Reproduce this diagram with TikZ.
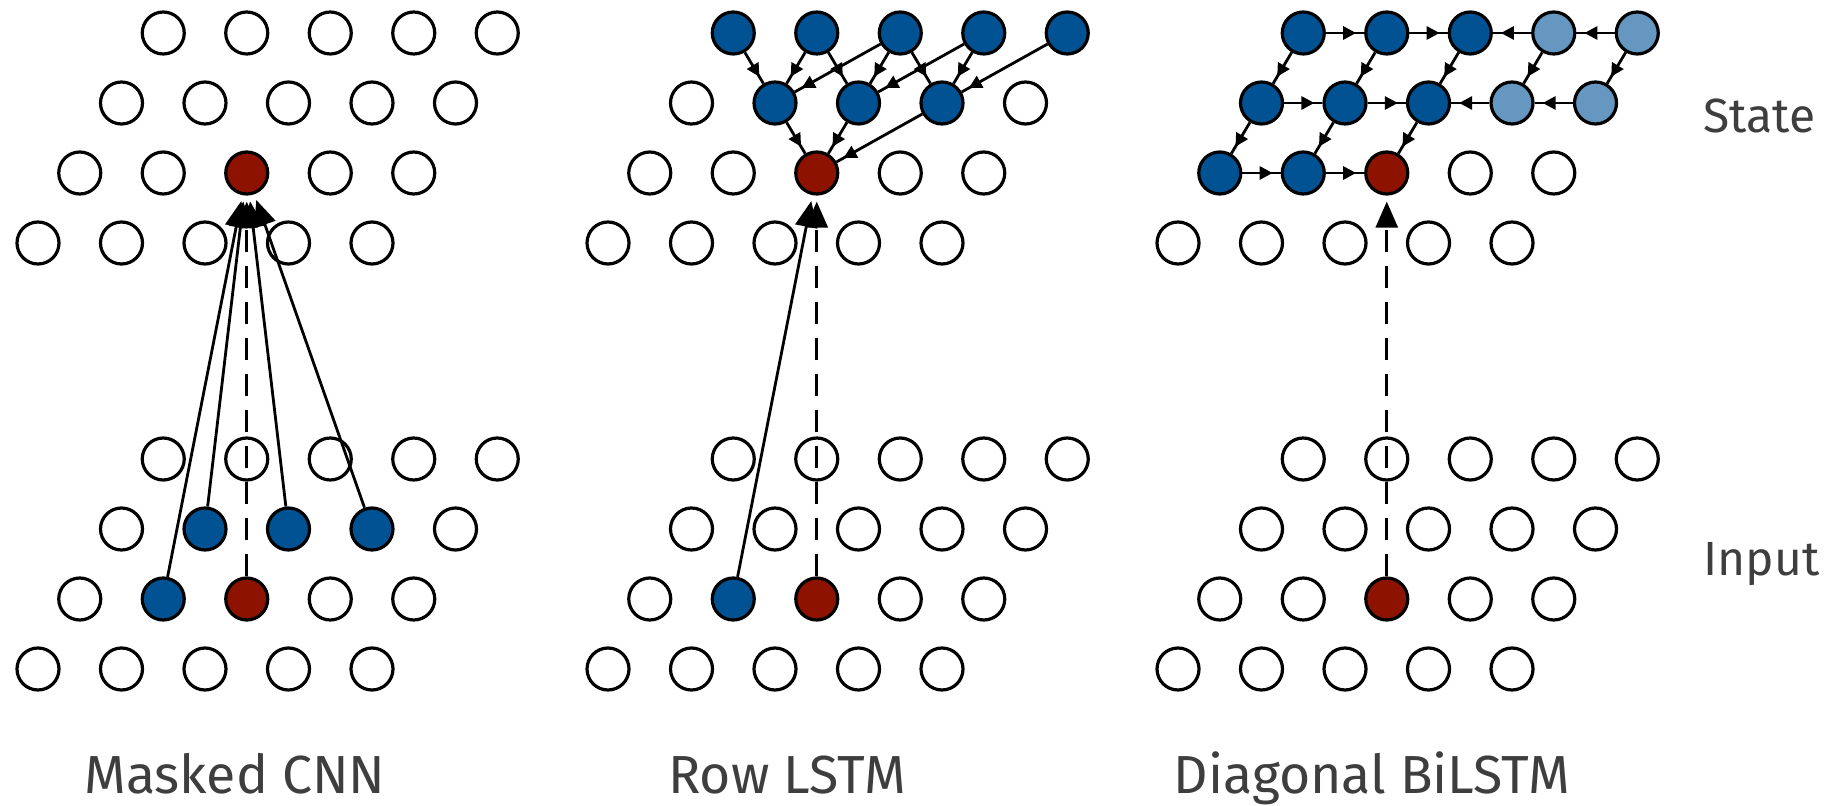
\documentclass[tikz,border=0pt]{standalone}
\usepackage{fontspec}
\setmainfont{Fira Sans}
\usetikzlibrary{arrows.meta,decorations.markings}
\definecolor{cblue}{RGB}{0,82,147}
\definecolor{clight}{RGB}{101,151,192}
\definecolor{cred}{RGB}{142,18,0}
\definecolor{ctext}{RGB}{62,62,62}
\tikzset{
  cell/.style={circle, draw=black, line width=1.6pt, fill=white, minimum size=21pt, inner sep=0pt},
  bluecell/.style={fill=cblue},
  lightcell/.style={fill=clight},
  redcell/.style={fill=cred},
  conn/.style={line width=1.4pt, draw=black},
  bigarrow/.style={conn, -{Triangle[length=13pt,width=11pt]}, shorten >=3pt},
  dashline/.style={dash pattern=on 11pt off 7pt},
  midarrow/.style={conn, postaction={decorate}, decoration={markings, mark=at position -4pt with {\arrow{Triangle[length=6.5pt,width=6.5pt]}}}},
  lbl/.style={text=ctext, font=\fontsize{26.8pt}{30pt}\selectfont, inner sep=0pt, anchor=base},
  side/.style={text=ctext, font=\fontsize{24pt}{28pt}\selectfont, inner sep=0pt, anchor=base west},
  % panel 1
  sty-1-s-2-1/.style={redcell},
  sty-1-n-2-1/.style={redcell},
  sty-1-n-1-1/.style={bluecell}, sty-1-n-1-2/.style={bluecell},
  sty-1-n-2-2/.style={bluecell}, sty-1-n-3-2/.style={bluecell},
  % panel 2
  sty-2-s-2-1/.style={redcell},
  sty-2-s-0-3/.style={bluecell}, sty-2-s-1-3/.style={bluecell}, sty-2-s-2-3/.style={bluecell},
  sty-2-s-3-3/.style={bluecell}, sty-2-s-4-3/.style={bluecell},
  sty-2-s-1-2/.style={bluecell}, sty-2-s-2-2/.style={bluecell}, sty-2-s-3-2/.style={bluecell},
  sty-2-n-1-1/.style={bluecell}, sty-2-n-2-1/.style={redcell},
  % panel 3
  sty-3-s-0-3/.style={bluecell}, sty-3-s-1-3/.style={bluecell}, sty-3-s-2-3/.style={bluecell},
  sty-3-s-3-3/.style={lightcell}, sty-3-s-4-3/.style={lightcell},
  sty-3-s-0-2/.style={bluecell}, sty-3-s-1-2/.style={bluecell}, sty-3-s-2-2/.style={bluecell},
  sty-3-s-3-2/.style={lightcell}, sty-3-s-4-2/.style={lightcell},
  sty-3-s-0-1/.style={bluecell}, sty-3-s-1-1/.style={bluecell}, sty-3-s-2-1/.style={redcell},
  sty-3-n-2-1/.style={redcell},
}
\begin{document}
\begin{tikzpicture}[x=0.5pt,y=-0.5pt]
\useasboundingbox (0,0) rectangle (1829,806);
% lattices
\foreach \p/\px in {1/0,2/570,3/1140} {
  \foreach \r in {0,1,2,3} {
    \foreach \i in {0,1,2,3,4} {
      \node[cell, sty-\p-s-\i-\r/.try] (s\p-\i-\r) at ({\px+38+83.5*\i+41.75*\r},{243-70*\r}) {};
      \node[cell, sty-\p-n-\i-\r/.try] (n\p-\i-\r) at ({\px+38+83.5*\i+41.75*\r},{669-70*\r}) {};
    }
  }
}
% panel 1: masked CNN
\foreach \a/\b in {1/1,1/2,2/2,3/2} {
  \draw[bigarrow] (n1-\a-\b) -- (s1-2-1);
}
\draw[bigarrow,dashline] (n1-2-1) -- (s1-2-1);
% panel 2: row LSTM
\draw[bigarrow] (n2-1-1) -- (s2-2-1);
\draw[bigarrow,dashline] (n2-2-1) -- (s2-2-1);
\foreach \j/\a/\b/\c in {1/0/1/2,2/1/2/3,3/2/3/4} {
  \draw[midarrow] (s2-\a-3) -- (s2-\j-2);
  \draw[midarrow] (s2-\b-3) -- (s2-\j-2);
  \draw[midarrow] (s2-\c-3) -- (s2-\j-2);
}
\foreach \a in {1,2,3} {
  \draw[midarrow] (s2-\a-2) -- (s2-2-1);
}
% panel 3: diagonal BiLSTM
\draw[bigarrow,dashline] (n3-2-1) -- (s3-2-1);
\foreach \r in {2,3} {
  \draw[midarrow] (s3-0-\r) -- (s3-1-\r);
  \draw[midarrow] (s3-1-\r) -- (s3-2-\r);
  \draw[midarrow] (s3-3-\r) -- (s3-2-\r);
  \draw[midarrow] (s3-4-\r) -- (s3-3-\r);
}
\draw[midarrow] (s3-0-1) -- (s3-1-1);
\draw[midarrow] (s3-1-1) -- (s3-2-1);
\foreach \i in {0,1,2,3,4} {
  \draw[midarrow] (s3-\i-3) -- (s3-\i-2);
}
\foreach \i in {0,1,2} {
  \draw[midarrow] (s3-\i-2) -- (s3-\i-1);
}
% labels
\node[side] (state) at (1703,133) {State};
\node[side] (input) at (1703,575) {Input};
\node[lbl] (lab1) at (235,793) {Masked CNN};
\node[lbl] (lab2) at (787,793) {Row LSTM};
\node[lbl] (lab3) at (1372,793) {Diagonal BiLSTM};
\end{tikzpicture}
\end{document}
